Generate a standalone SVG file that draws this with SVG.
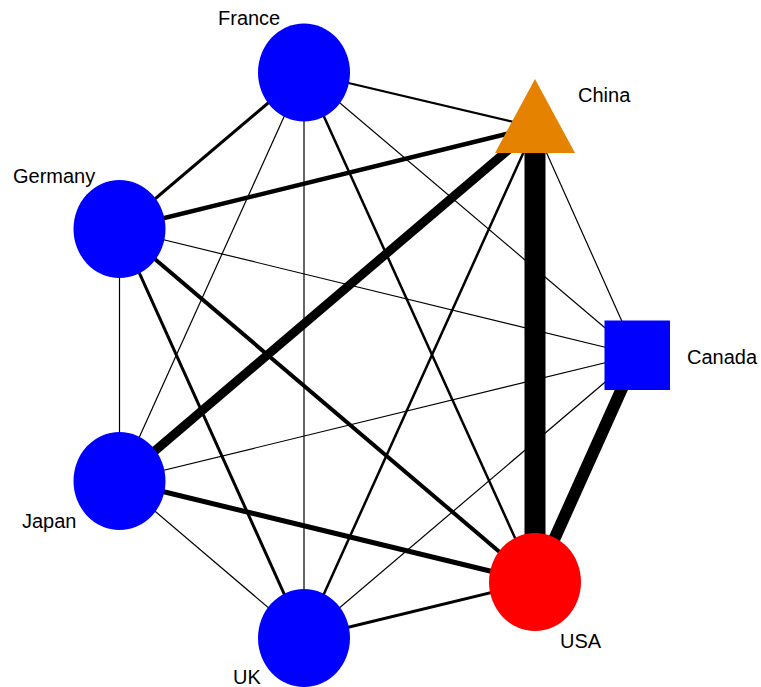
<svg xmlns="http://www.w3.org/2000/svg" width="761" height="687" viewBox="0 0 761 687">
<style>
.e{stroke:#000;stroke-linecap:butt;fill:none}
.t{stroke-width:1.2}
.lbl{font-family:"Liberation Sans",Arial,sans-serif;font-size:20px;fill:#000}
.blue{fill:#0000ff}
</style>
<rect width="761" height="687" fill="#fff"/>
<g id="edges">
<line class="e" x1="304" y1="72.5" x2="535" y2="127" stroke-width="2"/>
<line class="e" x1="304" y1="72.5" x2="119.5" y2="229" stroke-width="3"/>
<line class="e t" x1="304" y1="72.5" x2="119.5" y2="481"/>
<line class="e t" x1="304" y1="72.5" x2="304" y2="638"/>
<line class="e" x1="304" y1="72.5" x2="535" y2="582" stroke-width="2.5"/>
<line class="e t" x1="304" y1="72.5" x2="637" y2="355"/>
<line class="e" x1="119.5" y1="229" x2="535" y2="127" stroke-width="4.5"/>
<line class="e t" x1="119.5" y1="229" x2="119.5" y2="481"/>
<line class="e" x1="119.5" y1="229" x2="304" y2="638" stroke-width="3"/>
<line class="e" x1="119.5" y1="229" x2="535" y2="582" stroke-width="4"/>
<line class="e t" x1="119.5" y1="229" x2="637" y2="355"/>
<line class="e" x1="535" y1="127" x2="119.5" y2="481" stroke-width="9"/>
<line class="e" x1="535" y1="127" x2="304" y2="638" stroke-width="2.5"/>
<line class="e" x1="535" y1="127" x2="535" y2="582" stroke-width="21"/>
<line class="e t" x1="535" y1="127" x2="637" y2="355"/>
<line class="e t" x1="637" y1="355" x2="119.5" y2="481"/>
<line class="e t" x1="637" y1="355" x2="304" y2="638"/>
<line class="e" x1="637" y1="355" x2="535" y2="582" stroke-width="12"/>
<line class="e t" x1="119.5" y1="481" x2="304" y2="638"/>
<line class="e" x1="119.5" y1="481" x2="535" y2="582" stroke-width="5"/>
<line class="e" x1="304" y1="638" x2="535" y2="582" stroke-width="3"/>
</g>
<g id="France"><ellipse class="blue" cx="304" cy="72.5" rx="46" ry="49"/><text class="lbl" x="218" y="25">France</text></g>
<g id="China"><polygon points="535,79 495,153 575,153" fill="#e58200"/><text class="lbl" x="578" y="102">China</text></g>
<g id="Germany"><ellipse class="blue" cx="119.5" cy="229" rx="46" ry="49"/><text class="lbl" x="13" y="183">Germany</text></g>
<g id="Canada"><rect class="blue" x="604.5" y="320.5" width="65.5" height="69.5"/><text class="lbl" x="687" y="364">Canada</text></g>
<g id="Japan"><ellipse class="blue" cx="119.5" cy="481" rx="46" ry="49"/><text class="lbl" x="22" y="528">Japan</text></g>
<g id="USA"><ellipse cx="535" cy="582" rx="46" ry="49" fill="#ff0000"/><text class="lbl" x="560" y="648">USA</text></g>
<g id="UK"><ellipse class="blue" cx="304" cy="638" rx="46" ry="49"/><text class="lbl" x="233" y="684">UK</text></g>
</svg>
